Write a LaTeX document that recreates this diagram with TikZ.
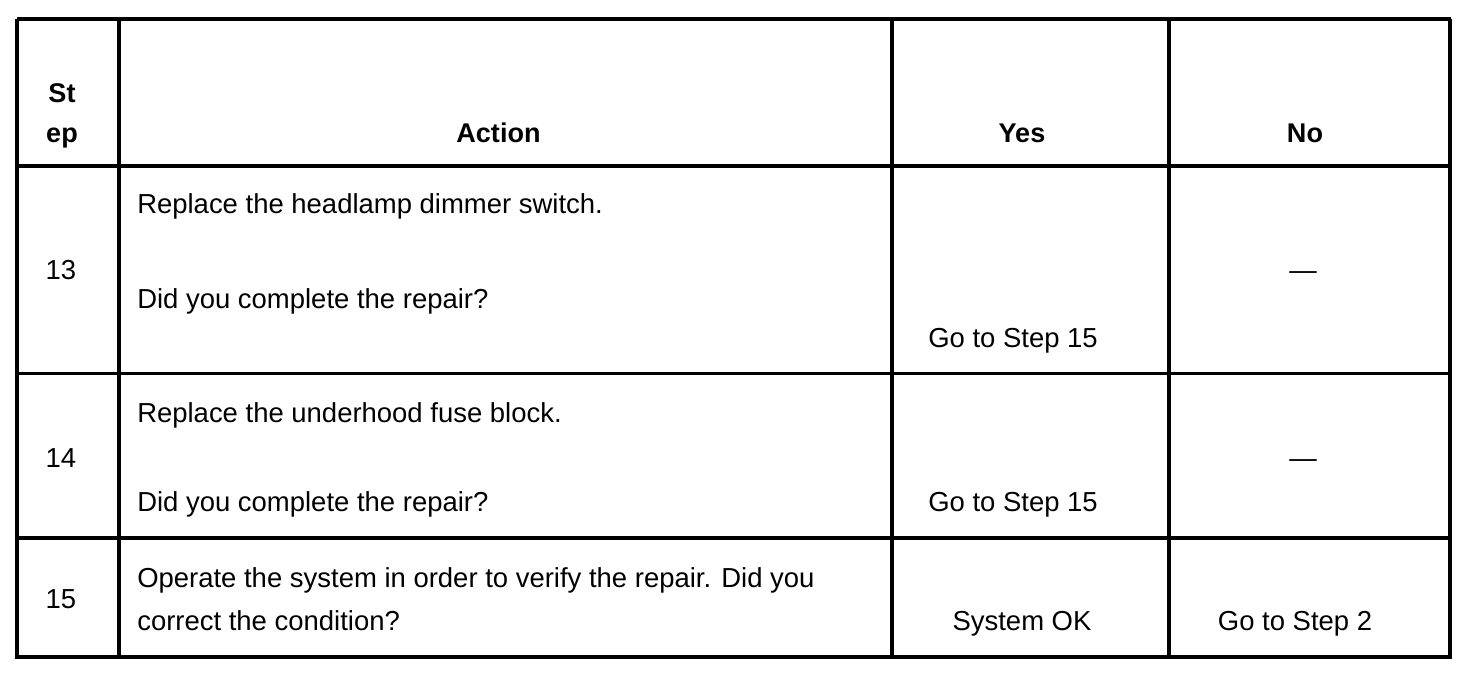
\documentclass[tikz,border=0pt]{standalone}
\usepackage{fontspec}
\setmainfont{Liberation Sans}
\usepackage{tikz}

\begin{document}
\begin{tikzpicture}[x=0.75pt,y=0.75pt,yscale=-1,xscale=1,
    rule/.style={line width=2.4pt},
    txt/.style={inner sep=0pt,anchor=base west,font=\fontsize{20.6}{24}\selectfont},
    ctxt/.style={inner sep=0pt,anchor=base,font=\fontsize{20.6}{24}\selectfont},
    head/.style={inner sep=0pt,anchor=base,font=\fontsize{20.3}{24}\selectfont\bfseries}]
    \useasboundingbox (0,0) rectangle (1472,688);

    %Table frame
    \draw [rule] (17,19) -- (1451,19) ;
    \draw [rule] (17,166) -- (1451,166) ;
    \draw [rule] (17,373.5) -- (1451,373.5) ;
    \draw [rule] (17,538) -- (1451,538) ;
    \draw [rule] (17,657) -- (1451,657) ;
    \foreach \x in {17,119,892,1169,1450}
        \draw [rule] (\x,19) -- (\x,659) ;

    % Header
    \draw (62,103) node (hst) [head] {St};
    \draw (62,142.5) node (hep) [head] {ep};
    \draw (498.5,142.5) node (haction) [head] {Action};
    \draw (1022,142.5) node (hyes) [head] {Yes};
    \draw (1305,142.5) node (hno) [head] {No};

    % Step 13
    \draw (61,280) node (sxiii) [ctxt] {13};
    \draw (137,214) node (axiiia) [txt] {Replace the headlamp dimmer switch.};
    \draw (137,308) node (axiiib) [txt] {Did you complete the repair?};
    \draw (1013,347) node (yxiii) [ctxt] {Go to Step 15};
    \draw (1303,280) node (nxiii) [ctxt] {—};

    % Step 14
    \draw (61,467) node (sxiv) [ctxt] {14};
    \draw (137,422) node (axiva) [txt] {Replace the underhood fuse block.};
    \draw (137,511) node (axivb) [txt] {Did you complete the repair?};
    \draw (1013,511) node (yxiv) [ctxt] {Go to Step 15};
    \draw (1303,467) node (nxiv) [ctxt] {—};

    % Step 15
    \draw (61,608) node (sxv) [ctxt] {15};
    \draw (137,587) node (axva) [txt] {Operate the system in order to verify the repair. Did you};
    \draw (137,630) node (axvb) [txt] {correct the condition?};
    \draw (1022,630) node (yxv) [ctxt] {System OK};
    \draw (1295,630) node (nxv) [ctxt] {Go to Step 2};

\end{tikzpicture}
\end{document}
